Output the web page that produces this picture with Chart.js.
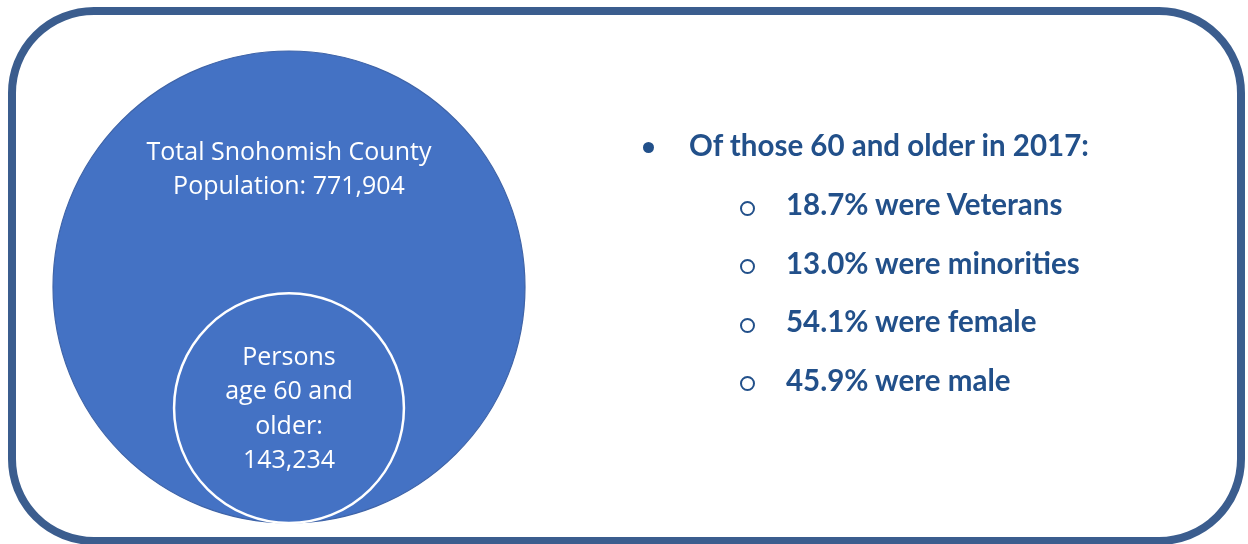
<!DOCTYPE html>
<html>
<head>
<meta charset="utf-8">
<title>Snohomish County population 60+</title>
<script src="https://cdn.jsdelivr.net/npm/chart.js@4.4.0/dist/chart.umd.min.js"></script>
<style>
  html, body { margin: 0; padding: 0; background: #fff; }
  body { width: 1248px; height: 544px; position: relative; overflow: hidden; }
  #frame {
    position: absolute; left: 8px; top: 7px; width: 1237px; height: 538px;
    box-sizing: border-box; border: 8px solid #3B5D8E; border-radius: 86px;
  }
  #chart-wrap { position: absolute; left: 0; top: 0; width: 1248px; height: 544px; }
  .fact {
    position: absolute; white-space: nowrap;
    font-family: Lato, "Open Sans", sans-serif; font-weight: 700;
    font-size: 29.5px; line-height: 30px; color: #22508A;
  }
  .dot { position: absolute; width: 11px; height: 11px; border-radius: 50%; background: #22508A; }
  .ring { position: absolute; width: 11px; height: 11px; border-radius: 50%; border: 2px solid #22508A; }
</style>
</head>
<body>
<div id="frame"></div>
<div id="chart-wrap"><canvas id="venn"></canvas></div>
<div id="facts"></div>
<script>
// population figures shown in the circles
const categories = ['Total Snohomish County Population:', 'Persons age 60 and older:'];
const population = [771904, 143234];

// breakdown of residents aged 60+ (percent)
const factHeading = 'Of those 60 and older in 2017:';
const factLabels = ['Veterans', 'minorities', 'female', 'male'];
const factValues = [18.7, 13.0, 54.1, 45.9];

// radius of each circle relative to the outer one, and label nudge in px
const circleSize = [1, 0.487];
const labelShift = [5, 8.5];

function wrapText(c, text, maxW) {
  const words = text.split(' ');
  const lines = [];
  let cur = '';
  words.forEach(w => {
    const t = cur ? cur + ' ' + w : w;
    if (cur && c.measureText(t).width > maxW) {
      lines.push(cur);
      cur = w;
    } else {
      cur = t;
    }
  });
  if (cur) lines.push(cur);
  return lines;
}

// white labels inside the circles
const circleLabels = {
  id: 'circleLabels',
  afterDatasetsDraw(chart) {
    const meta = chart.getDatasetMeta(0);
    const c = chart.ctx;
    c.save();
    c.fillStyle = '#ffffff';
    c.font = '25px "Open Sans", "Noto Sans", sans-serif';
    c.textAlign = 'center';
    c.textBaseline = 'alphabetic';
    meta.data.forEach((pt, i) => {
      const r = pt.options.radius;
      const next = meta.data[i + 1];
      const top = pt.y - r;
      const bottom = next ? next.y - next.options.radius : pt.y + r;
      const mid = (top + bottom) / 2 + labelShift[i];
      const text = categories[i] + ' ' + population[i].toLocaleString('en-US');
      const lines = wrapText(c, text, next ? 320 : 136);
      const lh = 34.5;
      lines.forEach((ln, k) => {
        c.fillText(ln, pt.x, mid + (k - (lines.length - 1) / 2) * lh);
      });
    });
    c.restore();
  }
};

function unitRadius(chart) {
  const s = chart.scales.x;
  if (!s) return 0;
  const d = s.getPixelForValue(1) - s.getPixelForValue(0);
  return isFinite(d) ? d : 0;
}

new Chart(document.getElementById('venn'), {
  type: 'scatter',
  data: {
    labels: categories,
    datasets: [{
      data: population.map((v, i) => ({ x: 0, y: -1 + circleSize[i] })),
      showLine: false,
      pointBackgroundColor: '#4472C4',
      pointBorderColor: ['#3F64A8', '#FFFFFF'],
      pointBorderWidth: [1.2, 2.5],
      pointRadius: ctx => circleSize[ctx.dataIndex] * unitRadius(ctx.chart),
      pointHoverRadius: ctx => circleSize[ctx.dataIndex] * unitRadius(ctx.chart),
      clip: false
    }]
  },
  options: {
    responsive: true,
    maintainAspectRatio: false,
    animation: false,
    events: [],
    layout: { padding: { left: 53, top: 51, right: 723, bottom: 21 } },
    scales: {
      x: { type: 'linear', min: -1, max: 1, display: false },
      y: { type: 'linear', min: -1, max: 1, display: false }
    },
    plugins: { legend: { display: false }, tooltip: { enabled: false } }
  },
  plugins: [circleLabels]
});

// bullet list on the right
const facts = document.getElementById('facts');
function addLine(text, left, baseline) {
  const d = document.createElement('div');
  d.className = 'fact';
  d.textContent = text;
  d.style.left = left + 'px';
  d.style.top = (baseline - 26) + 'px';
  facts.appendChild(d);
}
function addMarker(cls, cx, cy, size) {
  const m = document.createElement('div');
  m.className = cls;
  m.style.left = (cx - size / 2) + 'px';
  m.style.top = (cy - size / 2) + 'px';
  facts.appendChild(m);
}
addMarker('dot', 648, 147, 11);
addLine(factHeading, 689, 156);
factValues.forEach((v, i) => {
  const base = 215 + i * 58.5;
  addMarker('ring', 747, base - 7, 15);
  addLine(v.toFixed(1) + '% were ' + factLabels[i], 786, base);
});
</script>
</body>
</html>
